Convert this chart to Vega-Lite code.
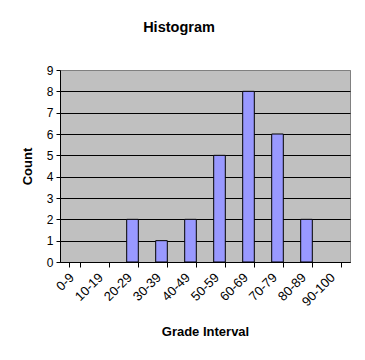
{
  "$schema": "https://vega.github.io/schema/vega-lite/v6.json",
  "autosize": "none",
  "width": 290,
  "height": 192,
  "padding": {"left": 60, "top": 70, "right": 15, "bottom": 98},
  "background": "white",
  "title": {
    "text": "Histogram",
    "font": "Liberation Sans",
    "fontSize": 14.5,
    "fontWeight": "bold",
    "color": "black",
    "anchor": "middle",
    "offset": 29,
    "dx": -26
  },
  "data": {
    "values": [
      {"interval": "0-9", "count": 0},
      {"interval": "10-19", "count": 0},
      {"interval": "20-29", "count": 2},
      {"interval": "30-39", "count": 1},
      {"interval": "40-49", "count": 2},
      {"interval": "50-59", "count": 5},
      {"interval": "60-69", "count": 8},
      {"interval": "70-79", "count": 6},
      {"interval": "80-89", "count": 2},
      {"interval": "90-100", "count": 0}
    ]
  },
  "mark": {"type": "bar", "fill": "#9999FF", "stroke": "black", "strokeWidth": 1},
  "encoding": {
    "x": {
      "field": "interval",
      "type": "nominal",
      "sort": null,
      "title": "Grade Interval",
      "scale": {"paddingInner": 0.6, "paddingOuter": 0.3},
      "axis": {
        "tickBand": "extent",
        "labelAngle": -45,
        "labelAlign": "right",
        "labelBaseline": "middle",
        "labelPadding": 8,
        "labelFontSize": 13,
        "labelOffset": -3,
        "tickSize": 5,
        "titlePadding": 17
      }
    },
    "y": {
      "field": "count",
      "type": "quantitative",
      "title": "Count",
      "scale": {"domain": [0, 9], "nice": false},
      "axis": {
        "values": [0, 1, 2, 3, 4, 5, 6, 7, 8, 9],
        "grid": true,
        "gridColor": {"condition": {"test": "datum.value == 9", "value": "#808080"}, "value": "black"},
        "gridOpacity": 1,
        "gridWidth": 1,
        "tickSize": 4,
        "labelPadding": 3,
        "labelFontSize": 12,
        "titlePadding": 12
      }
    },
    "strokeOpacity": {
      "condition": {"test": "datum.count == 0", "value": 0},
      "value": 1
    }
  },
  "config": {
    "font": "Liberation Sans",
    "view": {"fill": "#C0C0C0", "stroke": "#808080", "strokeWidth": 1},
    "axis": {
      "domainColor": "black",
      "tickColor": "black",
      "labelColor": "black",
      "labelFont": "Liberation Sans",
      "titleFont": "Liberation Sans",
      "titleFontSize": 13,
      "titleFontWeight": "bold",
      "titleColor": "black",
      "grid": false
    }
  }
}
